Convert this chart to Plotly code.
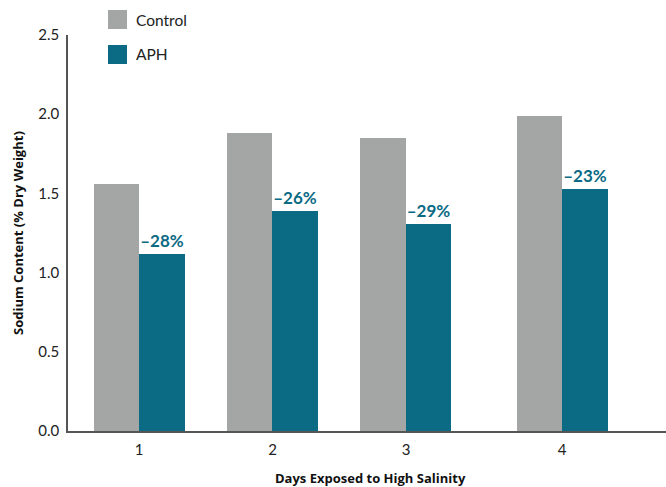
import plotly.graph_objects as go

# Sodium content (% dry weight) after days of high-salinity exposure
days = ["1", "2", "3", "4"]
day_positions = [1, 2, 3, 4.17]
control = [1.56, 1.88, 1.85, 1.99]
aph = [1.12, 1.39, 1.31, 1.53]

CONTROL_COLOR = "#a4a5a5"
APH_COLOR = "#0b6a84"
FONT = "Lato, Inter, sans-serif"
TITLE_FONT = "'Open Sans', Lato, sans-serif"
BAR_W = 0.341

change_labels = [f"\u2013{abs(round((a / c - 1) * 100))}%" for a, c in zip(aph, control)]

fig = go.Figure()
fig.add_trace(go.Bar(
    x=[p - BAR_W / 2 for p in day_positions], y=control, width=BAR_W,
    marker=dict(color=CONTROL_COLOR, line=dict(width=0)), name="Control",
    showlegend=False,
))
fig.add_trace(go.Bar(
    x=[p + BAR_W / 2 for p in day_positions], y=aph, width=BAR_W,
    marker=dict(color=APH_COLOR, line=dict(width=0)), name="APH",
    text=change_labels, textposition="outside", cliponaxis=False,
    textfont=dict(family=FONT, size=17, color=APH_COLOR, weight="bold"),
    showlegend=False,
))

# Legend swatches and labels
legend_items = [("Control", CONTROL_COLOR, 10), ("APH", APH_COLOR, 45)]
for label, color, top in legend_items:
    fig.add_shape(type="rect", xref="paper", yref="paper",
                  x0=(108 - 68) / 598, x1=(127 - 68) / 598,
                  y0=(431 - top - 19) / 396, y1=(431 - top) / 396,
                  fillcolor=color, line=dict(width=0))
    fig.add_annotation(xref="paper", yref="paper", x=(134 - 68) / 598,
                       y=(431 - top - 9.5) / 396, text=label, showarrow=False,
                       xanchor="left", yanchor="middle",
                       font=dict(family=FONT, size=15.5, color="#222222"))

fig.add_annotation(xref="paper", yref="paper", x=-50 / 598, y=0.5,
                   text="<b>Sodium Content (% Dry Weight)</b>", textangle=-90,
                   showarrow=False, xanchor="center", yanchor="middle",
                   font=dict(family=TITLE_FONT, size=13, color="#111111"))
fig.add_annotation(xref="paper", yref="paper", x=(370 - 68) / 598, y=-47 / 396,
                   text="<b>Days Exposed to High Salinity</b>",
                   showarrow=False, xanchor="center", yanchor="middle",
                   font=dict(family=TITLE_FONT, size=13, color="#111111"))

fig.update_layout(
    width=666, height=487,
    margin=dict(l=68, r=0, t=35, b=56),
    paper_bgcolor="white", plot_bgcolor="white",
    barmode="overlay", bargap=0,
    font=dict(family=FONT, size=15, color="#222222"),
    xaxis=dict(range=[0.468, 4.948], tickvals=day_positions, ticktext=days,
               showgrid=False, zeroline=False, showline=True,
               linecolor="#555555", linewidth=1.5, ticks="",
               ticklabelstandoff=4, fixedrange=True),
    yaxis=dict(range=[0, 2.5], tickvals=[0, 0.5, 1.0, 1.5, 2.0, 2.5],
               ticktext=["0.0", "0.5", "1.0", "1.5", "2.0", "2.5"],
               showgrid=False, zeroline=False, showline=True,
               linecolor="#555555", linewidth=1.5, ticks="",
               ticklabelstandoff=4, fixedrange=True),
)

fig.write_html("out.html")
